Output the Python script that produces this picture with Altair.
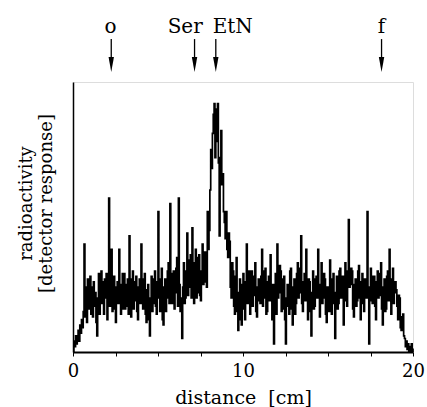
import altair as alt
import pandas as pd

# trace values, one row per cm (step 0.05 cm)
row00 = [0, 4, 2, 6, 3, 5, 8, 4, 10, 7, 12, 9, 15, 40, 13, 24, 11, 27, 16, 22]
row01 = [28, 14, 24, 13, 26, 17, 22, 11, 6, 20, 29, 14, 25, 30, 18, 26, 14, 27, 20, 29]
row02 = [12, 24, 57, 17, 20, 38, 15, 27, 28, 16, 11, 24, 26, 18, 38, 20, 14, 25, 29, 16]
row03 = [29, 16, 17, 25, 27, 14, 43, 20, 13, 27, 30, 16, 19, 26, 28, 15, 12, 24, 27, 18]
row04 = [40, 22, 16, 27, 29, 14, 11, 23, 25, 12, 6, 20, 28, 15, 18, 27, 30, 17, 14, 26]
row05 = [52, 20, 15, 27, 31, 12, 10, 24, 27, 15, 20, 30, 33, 18, 55, 22, 18, 29, 30, 16]
row06 = [22, 31, 35, 17, 57, 25, 15, 20, 5, 24, 33, 18, 20, 30, 44, 21, 24, 34, 36, 20]
row07 = [46, 28, 18, 33, 38, 20, 22, 35, 36, 21, 19, 30, 40, 25, 26, 37, 35, 24, 52, 38]
row08 = [45, 60, 75, 68, 81, 88, 92, 72, 78, 90, 92, 70, 43, 72, 82, 62, 66, 52, 48, 42]
row09 = [52, 38, 35, 44, 41, 24, 20, 33, 30, 17, 14, 28, 35, 15, 8, 22, 27, 12, 10, 25]
row10 = [29, 16, 12, 26, 40, 18, 24, 30, 14, 22, 30, 17, 21, 28, 33, 15, 13, 24, 27, 19]
row11 = [18, 28, 38, 17, 20, 30, 31, 14, 15, 26, 28, 19, 36, 22, 12, 25, 3, 18, 29, 14]
row12 = [40, 20, 22, 32, 30, 15, 16, 27, 28, 12, 3, 20, 25, 17, 14, 30, 31, 16, 10, 24]
row13 = [27, 14, 18, 29, 33, 20, 22, 31, 43, 18, 15, 26, 29, 19, 38, 24, 12, 27, 26, 15]
row14 = [6, 22, 30, 16, 17, 27, 28, 20, 38, 23, 13, 25, 33, 18, 20, 29, 27, 14, 11, 24]
row15 = [24, 15, 34, 20, 14, 27, 29, 18, 5, 22, 28, 16, 18, 30, 31, 20, 22, 28, 10, 25]
row16 = [33, 19, 17, 30, 49, 24, 25, 31, 30, 16, 13, 25, 27, 17, 19, 30, 32, 20, 12, 26]
row17 = [29, 18, 15, 27, 26, 20, 52, 24, 3, 19, 31, 22, 18, 28, 28, 17, 12, 26, 30, 20]
row18 = [21, 29, 33, 16, 10, 24, 27, 15, 16, 28, 30, 19, 38, 22, 14, 27, 31, 18, 22, 26]
row19 = [23, 17, 12, 21, 20, 9, 8, 13, 14, 6, 5, 2, 4, 1, 3, 0, 2, 0, 3, 1]
row20 = [0]

rows = [row00, row01, row02, row03, row04, row05, row06, row07, row08, row09,
        row10, row11, row12, row13, row14, row15, row16, row17, row18, row19, row20]
values = [v for r in rows for v in r]
distance = [round(i * 0.05, 2) for i in range(len(values))]

# markers at the top
marker_names = ["o", "Ser", "EtN", "f"]
marker_pos = [2.25, 7.15, 8.4, 18.15]
label_pos = [2.2, 6.6, 9.4, 18.15]

x_ticks = [0, 2.5, 5, 7.5, 10, 12.5, 15, 17.5, 20]

trace_df = pd.DataFrame({"distance": distance, "value": values})
mark_df = pd.DataFrame({"name": marker_names, "pos": marker_pos, "lpos": label_pos})

FONT = "DejaVu Serif"

xscale = alt.Scale(domain=[0, 20], nice=False, zero=False)
yscale = alt.Scale(domain=[0, 100], nice=False, zero=True)

trace = alt.Chart(trace_df).mark_line(color="black", strokeWidth=1.7,
                                      interpolate="step-after").encode(
    x=alt.X("distance:Q", scale=xscale,
            axis=alt.Axis(values=x_ticks,
                          labelExpr="datum.value % 10 == 0 ? datum.label : ''",
                          tickSize=4, tickWidth=1, tickColor="black",
                          domainColor="black", domainWidth=1.8,
                          labelFont=FONT, labelFontSize=18, labelColor="black",
                          labelPadding=6, labelFlush=False,
                          title="distance\u00a0\u00a0[cm]", titleFont=FONT, titleFontSize=19,
                          titleFontWeight="normal", titleColor="black", titlePadding=8,
                          grid=False)),
    y=alt.Y("value:Q", scale=yscale,
            axis=alt.Axis(ticks=False, labels=False, grid=False,
                          domainColor="black", domainWidth=1.5,
                          title=["radioactivity", "[detector response]"],
                          titleFont=FONT, titleFontSize=18, titleFontWeight="normal",
                          titleColor="black", titleAngle=-90, titleX=-47, titleY=121,
                          titleAlign="center", titleBaseline="middle",
                          titleLineHeight=20)),
)

shaft = alt.Chart(mark_df).mark_rule(color="black", strokeWidth=1.3).encode(
    x=alt.X("pos:Q", scale=xscale),
    y=alt.datum(115.9),
    y2=alt.datum(108.5),
)

head = alt.Chart(mark_df).mark_point(
    shape="M-0.36,-1 L0.36,-1 L0,1 Z", filled=True, color="black", opacity=1,
    size=225, strokeWidth=0,
).encode(
    x=alt.X("pos:Q", scale=xscale),
    y=alt.datum(106.5),
)

labels = alt.Chart(mark_df).mark_text(
    font=FONT, fontSize=20, color="black", baseline="alphabetic", align="center",
).encode(
    x=alt.X("lpos:Q", scale=xscale),
    y=alt.datum(118.1),
    text="name:N",
)

chart = alt.layer(trace, shaft, head, labels).properties(
    width=340, height=270,
    autosize=alt.AutoSizeParams(type="none"),
    padding={"left": 73, "top": 82, "right": 14, "bottom": 55},
).configure_view(stroke=None).configure(background="white")

chart.save("out.html", embed_options={"renderer": "svg", "actions": False})
